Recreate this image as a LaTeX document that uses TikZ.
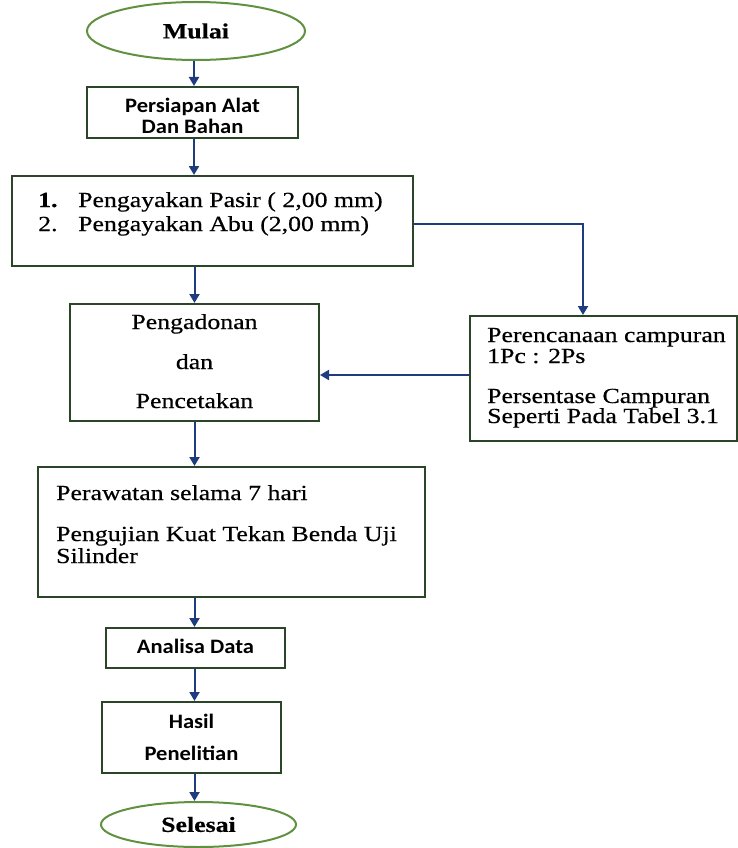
\documentclass[tikz,border=0pt]{standalone}
\usepackage{fontspec}
\setmainfont{Liberation Serif}[FakeStretch=1.2, FakeBold=0.5]
\newfontfamily\sansb{Carlito}[FakeStretch=1.1]
\usetikzlibrary{arrows.meta,shapes.geometric}
\definecolor{ellc}{HTML}{5F9140}
\definecolor{boxc}{HTML}{2B4529}
\definecolor{arrc}{HTML}{1F3D7E}
\begin{document}
\begin{tikzpicture}[x=1pt,y=-1pt,
  boxst/.style={draw=boxc, line width=2pt, rectangle, inner sep=0pt},
  ovalst/.style={draw=ellc, line width=2pt, ellipse, inner sep=0pt,
    font=\bfseries\fontsize{21.5}{24}\selectfont},
  serift/.style={font=\fontsize{21.5}{24}\selectfont, inner sep=0pt},
  sanst/.style={font=\sansb\bfseries\fontsize{20.5}{24}\selectfont, inner sep=0pt},
  arr/.style={draw=arrc, line width=2pt, -{Triangle[length=9pt,width=10pt]}}]
\useasboundingbox (0,0) rectangle (738,848);

% shapes
\node[ovalst, minimum width=218pt, minimum height=58pt] (mulai) at (196,31) {Mulai};
\node[boxst, minimum width=211pt, minimum height=51pt] (persiapan) at (192.5,112.5) {};
\node[boxst, minimum width=401pt, minimum height=90pt] (ayak) at (212.5,221) {};
\node[boxst, minimum width=267pt, minimum height=125pt] (rencana) at (603.5,378.5) {};
\node[boxst, minimum width=249pt, minimum height=117pt] (adon) at (194.5,362.5) {};
\node[boxst, minimum width=387pt, minimum height=130pt] (rawat) at (231.5,532) {};
\node[boxst, minimum width=179pt, minimum height=40pt] (analisa) at (195.5,648) {};
\node[boxst, minimum width=179pt, minimum height=71pt] (hasil) at (191.5,737.5) {};
\node[ovalst, minimum width=195pt, minimum height=45pt] (selesai) at (198.5,824.5) {Selesai};

% texts
\node[sanst, anchor=base] (tpers1) at (192.5,113) {Persiapan Alat};
\node[sanst, anchor=base] (tpers2) at (192.5,133) {Dan Bahan};

\node[serift, anchor=base west, font=\bfseries\fontsize{21.5}{24}\selectfont] (tn1) at (38,207) {1.};
\node[serift, anchor=base west] (tayak1) at (78,207) {Pengayakan Pasir ( 2,00 mm)};
\node[serift, anchor=base west] (tn2) at (38,231) {2.};
\node[serift, anchor=base west] (tayak2) at (78,231) {Pengayakan Abu (2,00 mm)};

\node[serift, anchor=base west] (tren1) at (487,342) {Perencanaan campuran};
\node[serift, anchor=base west] (tren2) at (487,363) {1Pc : 2Ps};
\node[serift, anchor=base west] (tren3) at (487,403) {Persentase Campuran};
\node[serift, anchor=base west] (tren4) at (487,423) {Seperti Pada Tabel 3.1};

\node[serift, anchor=base] (tadon1) at (194.5,329) {Pengadonan};
\node[serift, anchor=base] (tadon2) at (194.5,369) {dan};
\node[serift, anchor=base] (tadon3) at (194.5,408) {Pencetakan};

\node[serift, anchor=base west] (trawat1) at (56,500) {Perawatan selama 7 hari};
\node[serift, anchor=base west] (trawat2) at (56,541) {Pengujian Kuat Tekan Benda Uji};
\node[serift, anchor=base west] (trawat3) at (56,563) {Silinder};

\node[sanst, anchor=base] (tanalisa) at (195.5,653) {Analisa Data};
\node[sanst, anchor=base] (thasil1) at (191.5,728) {Hasil};
\node[sanst, anchor=base] (thasil2) at (191.5,760) {Penelitian};

% connectors
\draw[arr] ([xshift=-2pt]mulai.south) -- ([xshift=-2pt]mulai.south |- persiapan.north);
\draw[arr] ([xshift=1.5pt]persiapan.south) -- ([xshift=1.5pt]persiapan.south |- ayak.north);
\draw[arr] (adon.north |- ayak.south) -- (adon.north);
\draw[arr] ([yshift=-3pt]ayak.east) -| ([xshift=-20.5pt]rencana.north);
\draw[arr] ([yshift=3.5pt]rencana.west) -- ([yshift=3.5pt]adon.east |- rencana.west);
\draw[arr] (adon.south) -- (adon.south |- rawat.north);
\draw[arr] ([xshift=-1pt]analisa.north |- rawat.south) -- ([xshift=-1pt]analisa.north);
\draw[arr] ([xshift=-1pt]analisa.south) -- ([xshift=-1pt]analisa.south |- hasil.north);
\draw[arr] ([xshift=3pt]hasil.south) -- ([xshift=3pt]hasil.south |- selesai.north);
\end{tikzpicture}
\end{document}
